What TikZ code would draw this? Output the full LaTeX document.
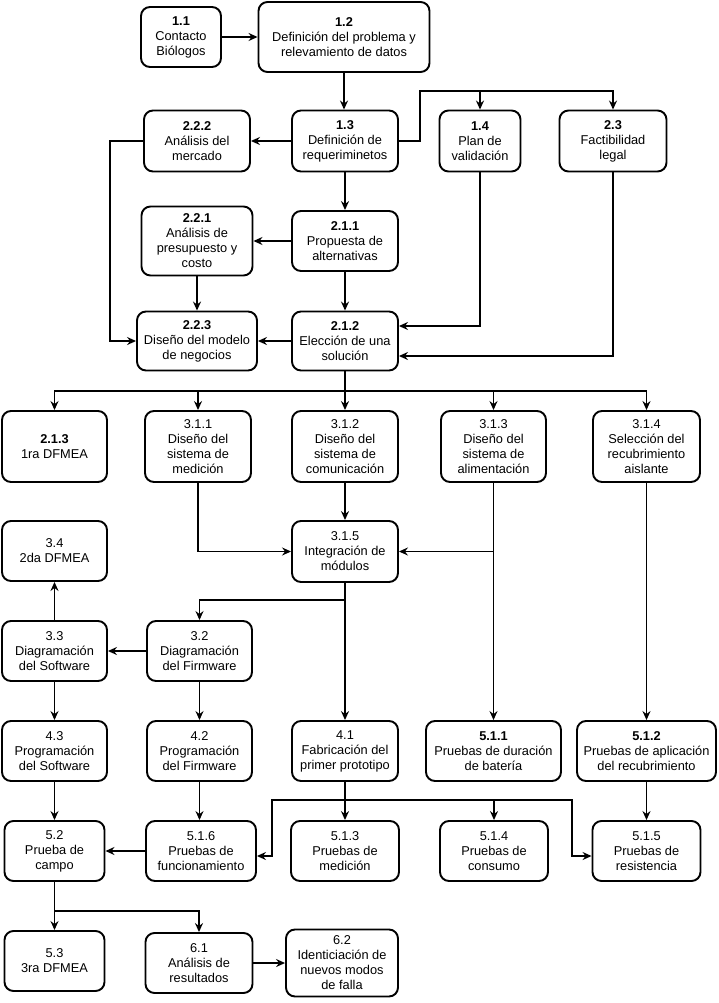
\documentclass[tikz,border=0pt]{standalone}
\usepackage{fontspec}
\setmainfont{Liberation Sans}
\usetikzlibrary{arrows.meta,calc}
\newcommand{\fsz}{\fontsize{12.8}{15}\selectfont}
\begin{document}
\begin{tikzpicture}[x=1pt,y=-1pt,
  box/.style={draw, rounded corners=9pt, line width=1.9pt, align=center, inner sep=1pt, font=\fsz},
  arr/.style={-{Stealth[length=9pt,width=8pt,inset=3pt]}, line width=1.7pt},
  ln/.style={line width=1.7pt}]
\useasboundingbox[fill=white] (0,0) rectangle (718,1003);

% Row 1
\node[box, minimum width=80pt, minimum height=60pt] (n11) at (181,37) {\textbf{1.1}\\Contacto\\Biólogos};
\node[box, minimum width=171pt, minimum height=70pt] (n12) at (344,37) {\textbf{1.2}\\Definición del problema y\\relevamiento de datos};
% Row 2
\node[box, minimum width=106pt, minimum height=61pt] (n13) at (345,141) {\textbf{1.3}\\Definición de\\requeriminetos};
\node[box, minimum width=106pt, minimum height=61pt] (n222) at (197,141) {\textbf{2.2.2}\\Análisis del\\mercado};
\node[box, minimum width=81pt, minimum height=61pt] (n14) at (480,141) {\textbf{1.4}\\Plan de\\validación};
\node[box, minimum width=107pt, minimum height=61pt] (n23) at (613,141) {\textbf{2.3}\\Factibilidad\\legal};
% Row 3
\node[box, minimum width=111pt, minimum height=69pt] (n221) at (197,241) {\textbf{2.2.1}\\Análisis de\\presupuesto y\\costo};
\node[box, minimum width=106pt, minimum height=60pt] (n211) at (345,241) {\textbf{2.1.1}\\Propuesta de\\alternativas};
% Row 4
\node[box, minimum width=120pt, minimum height=59pt] (n223) at (197,341) {\textbf{2.2.3}\\Diseño del modelo\\de negocios};
\node[box, minimum width=106pt, minimum height=59pt] (n212) at (345,341) {\textbf{2.1.2}\\Elección de una\\solución};
% Row 5
\node[box, minimum width=105pt, minimum height=71pt] (n213) at (54.5,446.5) {\textbf{2.1.3}\\1ra DFMEA};
\node[box, minimum width=106pt, minimum height=71pt] (n311) at (198,446.5) {3.1.1\\Diseño del\\sistema de\\medición};
\node[box, minimum width=106pt, minimum height=71pt] (n312) at (345,446.5) {3.1.2\\Diseño del\\sistema de\\comunicación};
\node[box, minimum width=105pt, minimum height=71pt] (n313) at (493.5,446.5) {3.1.3\\Diseño del\\sistema de\\alimentación};
\node[box, minimum width=107pt, minimum height=71pt] (n314) at (646.5,446.5) {3.1.4\\Selección del\\recubrimiento\\aislante};
% Row 6
\node[box, minimum width=105pt, minimum height=60pt] (n34) at (54.5,551) {3.4\\2da DFMEA};
\node[box, minimum width=106pt, minimum height=61pt] (n315) at (345,551.5) {3.1.5\\Integración de\\módulos};
% Row 7
\node[box, minimum width=105pt, minimum height=60pt] (n33) at (54.5,651) {3.3\\Diagramación\\del Software};
\node[box, minimum width=105pt, minimum height=60pt] (n32) at (199.5,651) {3.2\\Diagramación\\del Firmware};
% Row 8
\node[box, minimum width=105pt, minimum height=60pt] (n43) at (54.5,751) {4.3\\Programación\\del Software};
\node[box, minimum width=105pt, minimum height=60pt] (n42) at (199.5,751) {4.2\\Programación\\del Firmware};
\node[box, minimum width=106pt, minimum height=60pt] (n41) at (345,751) {4.1\\Fabricación del\\primer prototipo};
\node[box, minimum width=135pt, minimum height=60pt] (n511) at (493.5,751) {\textbf{5.1.1}\\Pruebas de duración\\de batería};
\node[box, minimum width=139pt, minimum height=60pt] (n512) at (646.5,751) {\textbf{5.1.2}\\Pruebas de aplicación\\del recubrimiento};
% Row 9
\node[box, minimum width=100pt, minimum height=60pt] (n52) at (54.5,851) {5.2\\Prueba de\\campo};
\node[box, minimum width=110pt, minimum height=60pt] (n516) at (201,851) {5.1.6\\Pruebas de\\funcionamiento};
\node[box, minimum width=108pt, minimum height=60pt] (n513) at (345,851) {5.1.3\\Pruebas de\\medición};
\node[box, minimum width=108pt, minimum height=60pt] (n514) at (494,851) {5.1.4\\Pruebas de\\consumo};
\node[box, minimum width=108pt, minimum height=60pt] (n515) at (646.5,851) {5.1.5\\Pruebas de\\resistencia};
% Row 10
\node[box, minimum width=100pt, minimum height=60pt] (n53) at (54.5,961) {5.3\\3ra DFMEA};
\node[box, minimum width=107pt, minimum height=60pt] (n61) at (199,963) {6.1\\Análisis de\\resultados};
\node[box, minimum width=112pt, minimum height=67pt] (n62) at (342,963) {6.2\\Identiciación de\\nuevos modos\\de falla};

% Connectors
\draw[arr] (n11.east) -- (n11.east -| n12.west);
\draw[arr] (n12.south) -- (n12.south |- n13.north);
\draw[arr] (n13.west) -- (n222.east);
\coordinate (j1) at (420,91);
\draw[arr] (n13.east) -| (j1) -| (n23.north);
\draw[arr] (n14.north |- j1) -- (n14.north);
\draw[arr] (n13.south) -- (n211.north);
\draw[arr] (n211.west) -- (n211.west -| n221.east);
\draw[arr] (n211.south) -- (n212.north);
\draw[arr] (n221.south) -- (n223.north);
\coordinate (j2) at (110,141);
\draw[arr] (n222.west) -- (j2) |- (n223.west);
\draw[arr] (n212.west) -- (n223.east);
\draw[arr] (n14.south) |- ($(n212.east)+(0,-15)$);
\draw[arr] (n23.south) |- ($(n212.east)+(0,15)$);
\coordinate (j3) at (345,391);
\draw[ln] (n212.south) -- (j3);
\foreach \n in {n213,n311,n312,n313,n314} \draw[arr] (j3) -| (\n.north);
\draw[arr] (n311.south) |- (n315.west);
\draw[arr] (n312.south) -- (n315.north);
\draw[arr] (n313.south) -- (n511.north);
\draw[arr] (n313.south |- n315.east) -- (n315.east);
\draw[arr] (n314.south) -- (n512.north);
\draw[arr] (n315.south) -- (n41.north);
\coordinate (j4) at (345,600);
\draw[arr] (j4) -| (n32.north);
\draw[arr] (n32.west) -- (n33.east);
\draw[arr] (n33.north) -- (n34.south);
\draw[arr] (n33.south) -- (n43.north);
\draw[arr] (n32.south) -- (n42.north);
\draw[arr] (n43.south) -- (n52.north);
\draw[arr] (n42.south) -- (n42.south |- n516.north);
\draw[arr] (n516.west) -- (n52.east);
\draw[arr] (n41.south) -- (n513.north);
\coordinate (j5) at (345,800);
\coordinate (j5l) at (272,800);
\coordinate (j5r) at (572,800);
\draw[arr] (j5) -- (j5l) |- ($(n516.east)+(0,5)$);
\draw[arr] (j5) -- (j5r) |- ($(n515.west)+(0,5)$);
\draw[arr] (j5) -| (n514.north);
\draw[arr] (n512.south) -- (n515.north);
\draw[arr] (n52.south) -- (n53.north);
\coordinate (j6) at (54.5,911);
\draw[arr] (j6) -| (n61.north);
\draw[arr] (n61.east) -- (n62.west);
\end{tikzpicture}
\end{document}
